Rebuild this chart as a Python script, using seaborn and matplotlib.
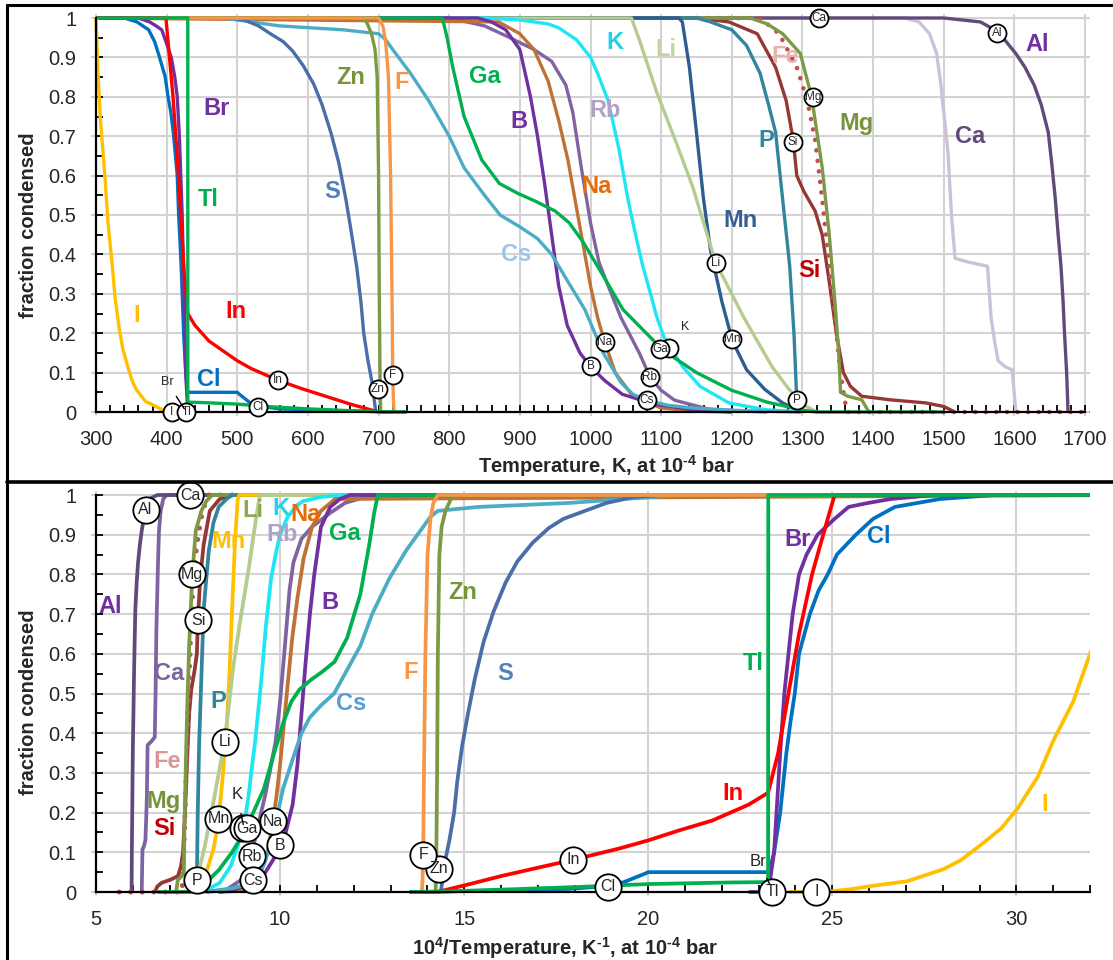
import numpy as np
import pandas as pd
import matplotlib
matplotlib.use('Agg')
import matplotlib.pyplot as plt
import seaborn as sns
from matplotlib.lines import Line2D
from matplotlib.ticker import MultipleLocator, FuncFormatter

sns.set_theme(style='white')
plt.rcParams['font.family'] = ['Liberation Sans', 'DejaVu Sans']
plt.rcParams['mathtext.fontset'] = 'custom'
plt.rcParams['mathtext.rm'] = 'Liberation Sans'
plt.rcParams['mathtext.bf'] = 'Liberation Sans:bold'
plt.rcParams['mathtext.default'] = 'regular'

# ---------------- data: temperature (K) vs fraction condensed ----------------
I_T = [300, 301, 303, 306, 309, 312.5, 317, 322.6, 327, 333, 338, 345, 351, 357, 370, 385, 392, 400, 405, 420]
I_f = [1.0, 0.95, 0.85, 0.75, 0.68, 0.6, 0.48, 0.38, 0.29, 0.21, 0.16, 0.115, 0.08, 0.057, 0.027, 0.014, 0.007, 0.002, 0.0, 0.0]
Br_T = [300, 360, 376, 385, 393, 399, 406.5, 411.5, 415, 418, 420, 422, 424, 425.8, 427, 429, 430, 440]
Br_f = [1, 1, 0.99, 0.98, 0.97, 0.94, 0.9, 0.85, 0.8, 0.7, 0.6, 0.5, 0.35, 0.2, 0.1, 0.03, 0.0, 0.0]
Cl_T = [300, 340, 358, 374.5, 383, 390, 398, 402, 406, 410, 415, 417, 419, 421, 424, 427, 429, 430, 450, 500, 503, 510, 517, 529, 560, 650, 720]
Cl_f = [1, 1, 0.99, 0.97, 0.94, 0.9, 0.85, 0.8, 0.76, 0.7, 0.6, 0.5, 0.43, 0.35, 0.2, 0.1, 0.06, 0.05, 0.05, 0.05, 0.045, 0.035, 0.025, 0.015, 0.008, 0.003, 0.0]
In_T = [300, 399, 404, 409, 415, 420, 425, 430, 440, 460, 480, 500, 520, 557, 590, 625, 660, 690, 700]
In_f = [1, 1, 0.9, 0.8, 0.65, 0.5, 0.35, 0.25, 0.22, 0.18, 0.155, 0.13, 0.11, 0.081, 0.06, 0.04, 0.02, 0.005, 0.0]
Tl_T = [300, 429.9, 430, 450, 500, 550, 600, 650, 700, 740]
Tl_f = [1, 1, 0.025, 0.024, 0.02, 0.013, 0.008, 0.004, 0.001, 0.0]
S_T = [300, 490, 510, 530, 547, 565, 578, 593, 608, 620, 633, 644, 654, 662, 669, 675, 679, 685, 691, 696]
S_f = [1, 1, 0.995, 0.98, 0.96, 0.94, 0.917, 0.88, 0.833, 0.78, 0.706, 0.63, 0.537, 0.45, 0.369, 0.28, 0.2, 0.13, 0.073, 0.0]
Zn_T = [300, 675, 683, 690, 695, 698, 700, 701, 702, 703, 740]
Zn_f = [1, 1, 0.99, 0.96, 0.92, 0.85, 0.6, 0.3, 0.1, 0.0, 0.0]
F_T = [300, 700, 706, 710, 714, 717, 719, 720, 721, 722]
F_f = [1, 1, 0.98, 0.94, 0.85, 0.6, 0.3, 0.1, 0.03, 0.0]
Cs_T = [300, 480, 560, 650, 700, 710, 720, 745, 771, 800, 821, 850, 872, 900, 925, 945, 965, 992, 1018, 1043, 1060, 1079, 1110, 1145, 1220, 1297]
Cs_f = [1, 1, 0.98, 0.97, 0.96, 0.945, 0.92, 0.86, 0.79, 0.7, 0.62, 0.55, 0.5, 0.47, 0.44, 0.4, 0.34, 0.26, 0.15, 0.075, 0.045, 0.03, 0.017, 0.01, 0.003, 0.0]
Ga_T = [300, 790, 793, 797, 805, 821, 846, 871, 897, 922, 950, 970, 990, 1010, 1046, 1090, 1100, 1150, 1200, 1250, 1300, 1320, 1500]
Ga_f = [1, 1, 0.98, 0.95, 0.875, 0.75, 0.64, 0.58, 0.555, 0.535, 0.51, 0.48, 0.43, 0.37, 0.26, 0.18, 0.16, 0.1, 0.055, 0.025, 0.005, 0.0, 0.0]
B_T = [300, 840, 860, 880, 900, 915, 925, 935, 945, 955, 967, 985, 1000, 1020, 1045, 1090, 1145, 1200]
B_f = [1, 1, 0.99, 0.97, 0.92, 0.8, 0.7, 0.58, 0.45, 0.32, 0.22, 0.15, 0.115, 0.08, 0.045, 0.02, 0.006, 0.0]
Na_T = [300, 870, 900, 920, 940, 955, 968, 980, 990, 1000, 1010, 1020, 1035, 1060, 1100, 1150, 1200]
Na_f = [1, 0.99, 0.96, 0.92, 0.84, 0.74, 0.64, 0.52, 0.42, 0.32, 0.24, 0.178, 0.1, 0.04, 0.01, 0.002, 0.0]
Rb_T = [300, 800, 850, 880, 920, 945, 965, 975, 987, 1000, 1012, 1025, 1043, 1069, 1084, 1100, 1119, 1170, 1250]
Rb_f = [1, 1, 0.98, 0.955, 0.92, 0.89, 0.83, 0.76, 0.62, 0.48, 0.38, 0.32, 0.24, 0.15, 0.09, 0.055, 0.03, 0.006, 0.0]
K_T = [300, 850, 900, 940, 955, 980, 1000, 1010, 1025, 1040, 1053, 1065, 1074, 1085, 1094, 1104, 1118, 1130, 1155, 1196, 1247, 1300]
K_f = [1, 1, 0.995, 0.985, 0.975, 0.945, 0.9, 0.86, 0.79, 0.67, 0.54, 0.44, 0.37, 0.3, 0.24, 0.19, 0.15, 0.116, 0.065, 0.023, 0.006, 0.0]
Li_T = [300, 1058, 1070, 1094, 1120, 1145, 1177, 1217, 1257, 1280, 1300, 1320]
Li_f = [1, 1, 0.94, 0.81, 0.69, 0.57, 0.38, 0.24, 0.115, 0.06, 0.02, 0.0]
Mn_T = [300, 1125, 1130, 1140, 1150, 1160, 1170, 1186, 1201, 1221, 1247, 1272, 1292, 1297]
Mn_f = [1, 1, 0.99, 0.875, 0.71, 0.54, 0.41, 0.28, 0.18, 0.107, 0.057, 0.023, 0.006, 0.0]
P_T = [300, 1150, 1170, 1200, 1221, 1240, 1252, 1262, 1272, 1282, 1288, 1292, 1293]
P_f = [1, 1, 0.99, 0.97, 0.93, 0.86, 0.78, 0.71, 0.54, 0.37, 0.2, 0.03, 0.0]
Si_T = [300, 1150, 1196, 1236, 1262, 1277, 1287, 1292, 1302, 1318, 1328, 1338, 1348, 1358, 1368, 1384, 1424, 1475, 1500, 1516]
Si_f = [1, 1, 0.99, 0.96, 0.875, 0.79, 0.69, 0.6, 0.56, 0.51, 0.45, 0.33, 0.2, 0.1, 0.065, 0.04, 0.031, 0.023, 0.014, 0.0]
Fe_T = [1150, 1240, 1267, 1292, 1307, 1318, 1328, 1338, 1348, 1353, 1358, 1363, 1850]
Fe_f = [1, 1, 0.96, 0.875, 0.79, 0.69, 0.54, 0.37, 0.2, 0.115, 0.05, 0.0, 0.0]
Mg_T = [300, 1226, 1250, 1272, 1297, 1313, 1328, 1338, 1346, 1351, 1354, 1364, 1384, 1394]
Mg_f = [1, 1, 0.985, 0.96, 0.91, 0.8, 0.62, 0.45, 0.28, 0.16, 0.05, 0.04, 0.031, 0.0]
Ca_T = [300, 1445, 1465, 1480, 1490, 1496, 1506, 1511, 1516, 1536, 1562, 1567, 1572, 1577, 1587, 1597, 1602]
Ca_f = [1, 1, 0.99, 0.96, 0.91, 0.83, 0.66, 0.5, 0.39, 0.38, 0.37, 0.24, 0.18, 0.13, 0.115, 0.107, 0.0]
Al_T = [300, 1500, 1552, 1577, 1602, 1615, 1628, 1638, 1648, 1653, 1658, 1662, 1666, 1669, 1671, 1674, 1676]
Al_f = [1, 1, 0.99, 0.965, 0.91, 0.875, 0.83, 0.78, 0.71, 0.63, 0.54, 0.45, 0.37, 0.28, 0.2, 0.1, 0.0]

curves = {
    'I': (I_T, I_f), 'Br': (Br_T, Br_f), 'Cl': (Cl_T, Cl_f), 'In': (In_T, In_f),
    'Tl': (Tl_T, Tl_f), 'S': (S_T, S_f), 'Zn': (Zn_T, Zn_f), 'F': (F_T, F_f),
    'Cs': (Cs_T, Cs_f), 'Ga': (Ga_T, Ga_f), 'B': (B_T, B_f), 'Na': (Na_T, Na_f),
    'Rb': (Rb_T, Rb_f), 'K': (K_T, K_f), 'Li': (Li_T, Li_f), 'Mn': (Mn_T, Mn_f),
    'P': (P_T, P_f), 'Si': (Si_T, Si_f), 'Fe': (Fe_T, Fe_f), 'Mg': (Mg_T, Mg_f),
    'Ca': (Ca_T, Ca_f), 'Al': (Al_T, Al_f),
}

# circled marker points (temperature, fraction)
mark_names = ['K', 'I', 'Tl', 'Cl', 'In', 'Zn', 'F', 'B', 'Na', 'Ga', 'Rb', 'Cs', 'Li', 'Mn', 'P', 'Si', 'Mg', 'Ca', 'Al']
mark_T = [1111, 407, 428, 529, 557, 699, 720, 1000, 1020, 1099, 1084, 1080, 1177, 1201, 1292, 1286, 1315, 1323, 1576]
mark_f = [0.162, 0.0, 0.0, 0.013, 0.081, 0.058, 0.094, 0.118, 0.178, 0.16, 0.09, 0.03, 0.378, 0.185, 0.03, 0.685, 0.8, 1.0, 0.963]

# ---------------- styles ----------------
order = ['Ca', 'Al', 'Si', 'Fe', 'Mg', 'P', 'Mn', 'Li', 'K', 'Rb', 'Na', 'B', 'Ga', 'Cs',
         'S', 'Zn', 'F', 'Cl', 'Br', 'In', 'Tl', 'I']
line_col = {
    'I': '#FFC000', 'Br': '#7030A0', 'Cl': '#0070C0', 'In': '#FF0000', 'Tl': '#00B050',
    'S': '#4A6FA8', 'Zn': '#7C9A46', 'F': '#F79646', 'Cs': '#4BACC6', 'Ga': '#00B050',
    'B': '#7030A0', 'Na': '#BF7233', 'Rb': '#8064A2', 'K': '#1EE6F5', 'Li': '#B5CC8E',
    'Mn': '#2F5D91', 'P': '#31859C', 'Si': '#953735', 'Fe': '#C0504D', 'Mg': '#7C9A46',
    'Ca': '#CCC1DA', 'Al': '#604A7B',
}
line_col_bottom = dict(line_col, Mn='#FFC000', Ca='#7B64A0')

top_labels = [
    ('Br', 470, 0.77, '#7030A0'), ('Tl', 459, 0.54, '#00B050'), ('In', 498, 0.255, '#FF0000'),
    ('I', 358, 0.246, '#FFC000'), ('Cl', 459, 0.082, '#0070C0'), ('S', 634, 0.56, '#4F81BD'),
    ('Zn', 660, 0.848, '#77933C'), ('F', 732, 0.837, '#F79646'), ('Ga', 850, 0.851, '#00B050'),
    ('B', 898, 0.738, '#7030A0'), ('Cs', 895, 0.40, '#9DC3E6'), ('Rb', 1020, 0.765, '#B1A0C7'),
    ('Na', 1009, 0.573, '#E46C0A'), ('K', 1034, 0.938, '#1FD3EB'), ('Li', 1107, 0.92, '#C3D69B'),
    ('Mn', 1212, 0.487, '#366092'), ('Fe', 1275, 0.902, '#E6B1AE'), ('P', 1249, 0.69, '#31859C'),
    ('Si', 1310, 0.359, '#C00000'), ('Mg', 1376, 0.733, '#77933C'), ('Ca', 1537, 0.698, '#604A7B'),
    ('Al', 1632, 0.934, '#7030A0'),
]
bottom_labels = [
    ('Al', 5.39, 0.719, '#7030A0'), ('Ca', 6.99, 0.551, '#7B64A0'), ('Fe', 6.94, 0.329, '#DA9694'),
    ('Mg', 6.84, 0.228, '#77933C'), ('Si', 6.86, 0.161, '#C00000'), ('P', 8.32, 0.48, '#31859C'),
    ('Li', 9.25, 0.962, '#8CA84E'), ('Mn', 8.59, 0.883, '#FFC000'), ('K', 10.02, 0.966, '#1FD3EB'),
    ('Na', 10.68, 0.95, '#E46C0A'), ('Rb', 10.05, 0.9, '#B1A0C7'), ('Ga', 11.75, 0.904, '#00B050'),
    ('B', 11.36, 0.729, '#7030A0'), ('Cs', 11.94, 0.476, '#5B9BD5'), ('F', 13.54, 0.553, '#F79646'),
    ('Zn', 14.95, 0.754, '#77933C'), ('S', 16.12, 0.551, '#4F81BD'), ('Br', 24.07, 0.887, '#7030A0'),
    ('Cl', 26.27, 0.895, '#0070C0'), ('Tl', 22.85, 0.576, '#00B050'), ('In', 22.31, 0.249, '#FF0000'),
    ('I', 30.76, 0.22, '#FFC000'),
]

# long-form table
frames = []
for name, (T, f) in curves.items():
    T = np.asarray(T, float)
    frames.append(pd.DataFrame({'element': name, 'T': T, 'invT': 1e4 / T, 'f': f,
                                'idx': np.arange(len(T))}))
df = pd.concat(frames, ignore_index=True)

# ---------------- figure ----------------
W, H = 1113, 960
fig = plt.figure(figsize=(W / 100, H / 100), dpi=100)

def px_axes(x0, x1, y0, y1):
    return fig.add_axes([x0 / W, 1 - y1 / H, (x1 - x0) / W, (y1 - y0) / H])

ax1 = px_axes(91, 1090, 14, 416)
ax2 = px_axes(91, 1090, 491, 896)

def style_axes(ax, xmin, xmax, xlo, xhi, ylo, yhi, xmaj, xmin_step, labelsize=14.5):
    ax.set_xlim(xlo, xhi)
    ax.set_ylim(ylo, yhi)
    ax.set_facecolor('white')
    for s in ['top', 'right']:
        ax.spines[s].set_visible(False)
    ax.spines['left'].set_position(('data', xmin))
    ax.spines['bottom'].set_position(('data', 0))
    ax.spines['left'].set_bounds(0, 1)
    ax.spines['bottom'].set_bounds(xmin, xmax)
    for s in ['left', 'bottom']:
        ax.spines[s].set_color('black')
        ax.spines[s].set_linewidth(1.6)
        ax.spines[s].set_zorder(5)
    ax.xaxis.set_major_locator(MultipleLocator(xmaj))
    ax.xaxis.set_minor_locator(MultipleLocator(xmin_step))
    ax.yaxis.set_major_locator(MultipleLocator(0.1))
    ax.yaxis.set_minor_locator(MultipleLocator(0.05))
    ax.yaxis.set_major_formatter(FuncFormatter(lambda v, p: f'{v:.1f}'.rstrip('0').rstrip('.') if v else '0'))
    ax.xaxis.set_major_formatter(FuncFormatter(lambda v, p: f'{v:g}'))
    ax.tick_params(which='both', direction='in', length=5, width=1.3, color='black',
                   top=False, right=False, left=True, bottom=True)
    ax.tick_params(axis='x', which='major', labelsize=labelsize, pad=13)
    ax.tick_params(axis='y', which='major', labelsize=labelsize, pad=14)
    ax.grid(True, which='major', color='#D3D3D3', linewidth=1.5)
    ax.set_axisbelow(True)

style_axes(ax1, 300, 1700, 300 - 5 / 0.7064, 1700 + 5 / 0.7064, -4 / 394, 1 + 4 / 394, 100, 20)
style_axes(ax2, 5, 32, 5 - 5 / 36.81, 32, -4 / 397, 1 + 4 / 397, 5, 1)

# curves
for ax, xcol, cols, lw in [(ax1, 'T', line_col, 2.4), (ax2, 'invT', line_col_bottom, 2.7)]:
    for name in order:
        sub = df[df.element == name].sort_values('idx')
        sns.lineplot(data=sub, x=xcol, y='f', sort=False, estimator=None, ax=ax,
                     color=cols[name], linewidth=lw, legend=False, zorder=3)
        ln = ax.lines[-1]
        ln.set_solid_capstyle('butt')
        ln.set_solid_joinstyle('round')
        if name == 'Fe':
            ln.set_linestyle((0, (0.01, 2.3)))
            ln.set_dash_capstyle('round')
            ln.set_linewidth(lw + 0.9)

# circled markers
for ax, use_inv, ms, fs in [(ax1, False, 13, 8.5), (ax2, True, 19, 11.5)]:
    for name, T, f in zip(mark_names, mark_T, mark_f):
        x = 1e4 / T if use_inv else T
        ax.plot([x], [f], 'o', ms=ms, mfc='white', mec='black', mew=1.3, zorder=10, clip_on=False)
        if name != 'K':
            ax.text(x, f, name, ha='center', va='center', fontsize=fs, zorder=11, clip_on=False)

# element labels
for ax, labels in [(ax1, top_labels), (ax2, bottom_labels)]:
    for name, x, y, c in labels:
        ax.text(x, y, name, color=c, fontsize=17, fontweight='bold', ha='center', va='center', zorder=12)

# small black annotations
ax1.annotate('Br', xy=(425, 0.008), xytext=(401, 0.075), fontsize=9, ha='center', va='center',
             arrowprops=dict(arrowstyle='-', color='black', lw=1.0, shrinkA=4, shrinkB=0), zorder=12)
ax1.text(1134, 0.215, 'K', fontsize=9, ha='center', va='center', zorder=12)
ax2.annotate('Br', xy=(23.3, 0.02), xytext=(22.98, 0.077), fontsize=12, ha='center', va='center',
             arrowprops=dict(arrowstyle='-', color='black', lw=1.0, shrinkA=5, shrinkB=0), zorder=12)
ax2.annotate('K', xy=(9.0, 0.17), xytext=(8.83, 0.245), fontsize=12, ha='center', va='center',
             arrowprops=dict(arrowstyle='-', color='black', lw=1.0, shrinkA=6, shrinkB=0), zorder=12)

# axis titles
ax1.set_xlabel('Temperature, K, at 10$^{\\mathbf{\u2010}\\mathbf{4}}$ bar', fontsize=14.5, fontweight='bold')
ax1.xaxis.set_label_coords((606 - 91) / 999, (416 - 466) / 402)
ax2.set_xlabel('10$^{\\mathbf{4}}$/Temperature, K$^{\\mathbf{\u2010}\\mathbf{1}}$, at 10$^{\\mathbf{\u2010}\\mathbf{4}}$ bar',
               fontsize=14.5, fontweight='bold')
ax2.xaxis.set_label_coords((565 - 91) / 999, (896 - 948) / 405)
for ax, yc in [(ax1, (416 - 225) / 402), (ax2, (896 - 702) / 405)]:
    ax.set_ylabel('fraction condensed', fontsize=14.5, fontweight='bold')
    ax.yaxis.set_label_coords((28 - 91) / 999, yc)
for ax in (ax1, ax2):
    ax.xaxis.label.set_va('center')
    ax.yaxis.label.set_va('center')

# panel frames
def fline(x0, y0, x1, y1, lw=2.2):
    fig.add_artist(Line2D([x0 / W, x1 / W], [1 - y0 / H, 1 - y1 / H], transform=fig.transFigure,
                          color='black', linewidth=lw))
fline(7, 5, W, 5)
fline(7, 5, 7, H)
fline(7, 482, W, 482, lw=2.6)

fig.savefig('out.png', dpi=100)
